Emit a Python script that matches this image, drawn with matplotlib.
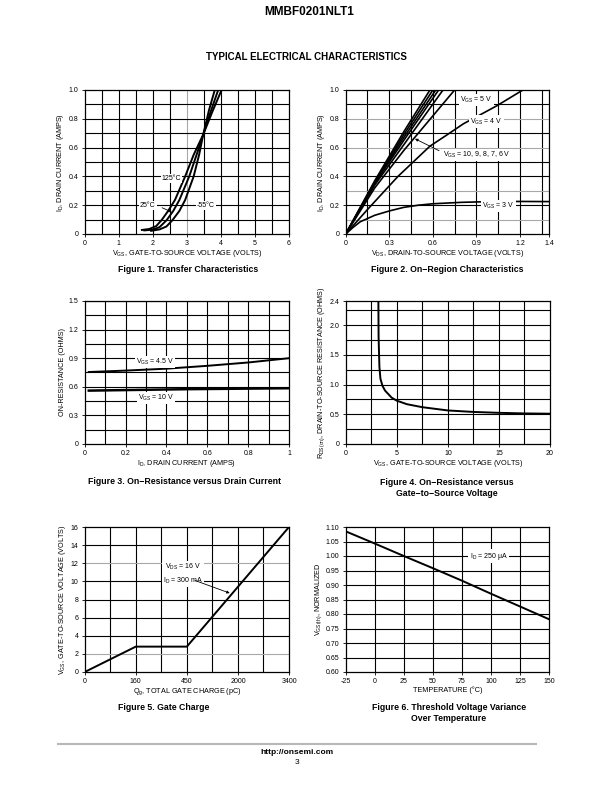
import numpy as np
import matplotlib
matplotlib.use("Agg")
import matplotlib.pyplot as plt

plt.rcParams['font.family'] = ['Liberation Sans Narrow', 'Liberation Sans', 'DejaVu Sans']
plt.rcParams['mathtext.default'] = 'regular'

# Figure 1: transfer characteristics (VGS in volts, ID in amps)
vgs_125 = [1.68, 1.9, 2.1, 2.26, 2.45, 2.65, 2.95, 3.2, 3.48, 3.75, 4.02]
id_125 = [0.028, 0.035, 0.055, 0.097, 0.16, 0.236, 0.4, 0.55, 0.69, 0.85, 1.0]
vgs_25 = [1.75, 2.0, 2.2, 2.41, 2.6, 2.78, 3.07, 3.3, 3.48, 3.7, 3.92]
id_25 = [0.025, 0.03, 0.048, 0.097, 0.16, 0.236, 0.4, 0.56, 0.69, 0.85, 1.0]
vgs_m55 = [1.95, 2.2, 2.4, 2.58, 2.78, 2.95, 3.2, 3.36, 3.48, 3.65, 3.82]
id_m55 = [0.022, 0.032, 0.052, 0.097, 0.16, 0.236, 0.4, 0.55, 0.69, 0.86, 1.0]

# Figure 2: on-region characteristics (VDS in volts, ID in amps)
vds_10 = [0, 0.2, 0.4, 0.58]
id_10 = [0, 0.37, 0.71, 1.0]
vds_9 = [0, 0.2, 0.4, 0.60]
id_9 = [0, 0.36, 0.69, 1.0]
vds_8 = [0, 0.2, 0.4, 0.62]
id_8 = [0, 0.355, 0.67, 1.0]
vds_7 = [0, 0.2, 0.4, 0.64]
id_7 = [0, 0.35, 0.65, 1.0]
vds_6 = [0, 0.2, 0.4, 0.67]
id_6 = [0, 0.34, 0.62, 1.0]
vds_5 = [0, 0.2, 0.4, 0.6, 0.75]
id_5 = [0, 0.32, 0.58, 0.82, 1.0]
vds_4 = [0, 0.15, 0.36, 0.58, 0.7, 0.81, 0.93, 1.04, 1.13, 1.22]
id_4 = [0, 0.17, 0.4, 0.61, 0.69, 0.765, 0.83, 0.89, 0.945, 1.0]
vds_3 = [0, 0.05, 0.1, 0.2, 0.3, 0.4, 0.5, 0.6, 0.8, 1.0, 1.2, 1.4]
id_3 = [0, 0.045, 0.085, 0.13, 0.16, 0.185, 0.2, 0.21, 0.22, 0.225, 0.226, 0.225]

# Figure 3: on-resistance vs drain current
id_r45 = [0.02, 0.2, 0.4, 0.6, 0.8, 1.0]
r_45 = [0.755, 0.77, 0.79, 0.82, 0.855, 0.9]
id_r10 = [0.02, 0.5, 1.0]
r_10 = [0.56, 0.575, 0.585]

# Figure 4: on-resistance vs gate-to-source voltage
vgs_r = [3.2, 3.22, 3.3, 3.4, 3.6, 3.85, 4.5, 5, 6, 7.5, 10, 12.5, 15, 17.5, 20]
rds_on = [2.4, 1.8, 1.3, 1.1, 0.98, 0.9, 0.78, 0.73, 0.67, 0.62, 0.565, 0.54, 0.525, 0.515, 0.51]

# Figure 5: gate charge
qg_ticks = [0, 160, 450, 2000, 3400]
qg = [0, 160, 450, 3400]
vgs_q = [0, 2.8, 2.8, 16]

# Figure 6: threshold voltage vs temperature
temp = [-25, 0, 25, 50, 75, 100, 125, 150]
vth_norm = [1.085, 1.043, 1.0, 0.958, 0.915, 0.870, 0.826, 0.782]

fig = plt.figure(figsize=(6.12, 7.92), dpi=100)

TICK = 5
LAB = 5.2
CAP = 6.3
GRAY = '#a8a8a8'


def px_axes(left, top, right, bottom):
    return fig.add_axes([left / 612, 1 - bottom / 792, (right - left) / 612, (bottom - top) / 792])


def setup(ax, xlim, ylim, xgrid, ygrid, xticks, yticks, xtl=None, ytl=None, gray_x=(), gray_y=()):
    ax.set_xlim(*xlim)
    ax.set_ylim(*ylim)
    for g in xgrid:
        ax.axvline(g, color=GRAY if g in gray_x else 'black', lw=0.8, zorder=1)
    for g in ygrid:
        ax.axhline(g, color=GRAY if g in gray_y else 'black', lw=0.8, zorder=1)
    ax.set_xticks(xticks)
    ax.set_yticks(yticks)
    if xtl is not None:
        ax.set_xticklabels(xtl)
    if ytl is not None:
        ax.set_yticklabels(ytl)
    ax.tick_params(labelsize=TICK, length=2.5, width=0.6, pad=2)
    for s in ax.spines.values():
        s.set_linewidth(0.9)


def label(ax, x, y, s, **kw):
    ax.text(x, y, s, fontsize=TICK, ha='center', va='center', zorder=5,
            bbox=dict(facecolor='white', edgecolor='none', pad=0.8), **kw)


def axis_labels(ax, xl, yl):
    ax.set_xlabel(xl, fontsize=LAB, labelpad=0.5)
    ax.set_ylabel(yl, fontsize=LAB, labelpad=1.5)


# ---- Figure 1
ax1 = px_axes(84.7, 90, 289, 234)
setup(ax1, (0, 6), (0, 1.0), np.arange(0.5, 6, 0.5), np.arange(0.1, 1.0, 0.1),
      range(0, 7), [0, 0.2, 0.4, 0.6, 0.8, 1.0], ytl=['0', '0.2', '0.4', '0.6', '0.8', '1.0'],
      gray_x=(3.0,))
for v, i in [(vgs_125, id_125), (vgs_25, id_25), (vgs_m55, id_m55)]:
    ax1.plot(v, i, color='black', lw=1.4, zorder=3)
label(ax1, 2.55, 0.385, '125°C')
label(ax1, 1.85, 0.2, '25°C')
label(ax1, 3.55, 0.2, '-55°C')
ax1.annotate('', xy=(2.63, 0.145), xytext=(2.2, 0.19),
             arrowprops=dict(arrowstyle='-|>', color='black', lw=0.6, mutation_scale=4), zorder=6)
axis_labels(ax1, 'V$_{GS}$, GATE-TO-SOURCE VOLTAGE (VOLTS)', 'I$_D$, DRAIN CURRENT (AMPS)')

# ---- Figure 2
ax2 = px_axes(345.7, 90, 549, 234)
setup(ax2, (0, 1.4), (0, 1.0), np.arange(0.15, 1.4, 0.15), np.round(np.arange(0.1, 1.0, 0.1), 2),
      [0, 0.3, 0.6, 0.9, 1.2, 1.4], [0, 0.2, 0.4, 0.6, 0.8, 1.0],
      xtl=['0', '0.3', '0.6', '0.9', '1.2', '1.4'], ytl=['0', '0.2', '0.4', '0.6', '0.8', '1.0'],
      gray_y=(0.1, 0.3, 0.6, 0.8))
for v, i in [(vds_10, id_10), (vds_9, id_9), (vds_8, id_8), (vds_7, id_7), (vds_6, id_6),
             (vds_5, id_5), (vds_4, id_4), (vds_3, id_3)]:
    ax2.plot(v, i, color='black', lw=1.2, zorder=3)
label(ax2, 0.9, 0.93, 'V$_{GS}$ = 5 V')
label(ax2, 0.97, 0.78, 'V$_{GS}$ = 4 V')
label(ax2, 0.9, 0.55, 'V$_{GS}$ = 10, 9, 8, 7, 6 V')
label(ax2, 1.05, 0.195, 'V$_{GS}$ = 3 V')
ax2.annotate('', xy=(0.46, 0.67), xytext=(0.66, 0.57),
             arrowprops=dict(arrowstyle='-|>', color='black', lw=0.6, mutation_scale=4), zorder=6)
axis_labels(ax2, 'V$_{DS}$, DRAIN-TO-SOURCE VOLTAGE (VOLTS)', 'I$_D$, DRAIN CURRENT (AMPS)')

# ---- Figure 3
ax3 = px_axes(84.7, 301, 289, 444)
setup(ax3, (0, 1), (0, 1.5), np.arange(0.1, 1.0, 0.1), np.arange(0.15, 1.5, 0.15),
      [0, 0.2, 0.4, 0.6, 0.8, 1], [0, 0.3, 0.6, 0.9, 1.2, 1.5],
      xtl=['0', '0.2', '0.4', '0.6', '0.8', '1'], ytl=['0', '0.3', '0.6', '0.9', '1.2', '1.5'])
ax3.plot(id_r45, r_45, color='black', lw=1.4, zorder=3)
ax3.plot(id_r10, r_10, color='black', lw=1.8, zorder=3)
label(ax3, 0.345, 0.86, 'V$_{GS}$ = 4.5 V')
label(ax3, 0.35, 0.485, 'V$_{GS}$ = 10 V')
axis_labels(ax3, 'I$_D$, DRAIN CURRENT (AMPS)', 'ON-RESISTANCE (OHMS)')

# ---- Figure 4
ax4 = px_axes(345.7, 301.5, 550, 444)
setup(ax4, (0, 20), (0, 2.4), np.arange(2.5, 20, 2.5), np.arange(0.25, 2.4, 0.25),
      [0, 5, 10, 15, 20], [0, 0.5, 1.0, 1.5, 2.0, 2.4],
      ytl=['0', '0.5', '1.0', '1.5', '2.0', '2.4'])
ax4.plot(vgs_r, rds_on, color='black', lw=1.4, zorder=3)
axis_labels(ax4, 'V$_{GS}$, GATE-TO-SOURCE VOLTAGE (VOLTS)',
            'R$_{DS(on)}$, DRAIN-TO-SOURCE RESISTANCE (OHMS)')

# ---- Figure 5
ax5 = px_axes(84.7, 527, 289, 672)
pos = [0, 1, 2, 3, 4]
ax5.set_xscale('function', functions=(lambda x: np.interp(x, qg_ticks, pos),
                                      lambda p: np.interp(p, pos, qg_ticks)))
half = list(np.interp([0.5, 1.5, 2.5, 3.5], pos, qg_ticks))
setup(ax5, (0, 3400), (0, 16), half + qg_ticks[1:-1], np.arange(2, 16, 2),
      qg_ticks, range(0, 17, 2), xtl=[str(q) for q in qg_ticks], gray_y=(2, 12))
ax5.plot(qg, vgs_q, color='black', lw=1.4, zorder=3)
ax5.text(430, 10.85, 'V$_{DS}$ = 16 V\nI$_D$ = 300 mA', fontsize=TICK, ha='center', va='center',
         linespacing=1.5, zorder=5, bbox=dict(facecolor='white', edgecolor='none', pad=0.8))
ax5.annotate('', xy=(1830, 8.6), xytext=(620, 10.2),
             arrowprops=dict(arrowstyle='-|>', color='black', lw=0.6, mutation_scale=4), zorder=6)
axis_labels(ax5, 'Q$_g$, TOTAL GATE CHARGE (pC)', 'V$_{GS}$, GATE-TO-SOURCE VOLTAGE (VOLTS)')

# ---- Figure 6
ax6 = px_axes(345.7, 527, 549, 672)
yt6 = np.round(np.arange(0.60, 1.101, 0.05), 2)
setup(ax6, (-25, 150), (0.6, 1.1), range(0, 150, 25), yt6[1:-1],
      range(-25, 151, 25), yt6, xtl=[str(t) for t in range(-25, 151, 25)],
      ytl=['%.2f' % v for v in yt6])
ax6.plot(temp, vth_norm, color='black', lw=1.4, zorder=3)
label(ax6, 98, 1.0, 'I$_D$ = 250 μA')
axis_labels(ax6, 'TEMPERATURE (°C)', 'V$_{GS(th)}$, NORMALIZED')


# captions and page text
def ftext(x, y, s, size, weight='bold', **kw):
    fig.text(x / 612, 1 - y / 792, s, fontsize=size, fontweight=weight, ha='center', va='center',
             family=['Liberation Sans', 'DejaVu Sans'], **kw)


ftext(309, 12, 'MMBF0201NLT1', 8.5)
ftext(306, 57, 'TYPICAL ELECTRICAL CHARACTERISTICS', 7)
ftext(188, 269, 'Figure 1. Transfer Characteristics', CAP)
ftext(447, 269, 'Figure 2. On\u2212Region Characteristics', CAP)
ftext(185, 482, 'Figure 3. On\u2212Resistance versus Drain Current', CAP)
ftext(447, 488, 'Figure 4. On\u2212Resistance versus\nGate\u2212to\u2212Source Voltage', CAP, linespacing=1.3)
ftext(164, 707, 'Figure 5. Gate Charge', CAP)
ftext(449, 713, 'Figure 6. Threshold Voltage Variance\nOver Temperature', CAP, linespacing=1.3)
fig.add_artist(plt.Line2D([58 / 612, 536 / 612], [1 - 744 / 792, 1 - 744 / 792],
                          color='#b8b8b8', lw=1.5))
ftext(297, 752.5, 'http://onsemi.com', 6)
ftext(297, 762.5, '3', 6, weight='normal')

fig.savefig('out.png', dpi=100)
